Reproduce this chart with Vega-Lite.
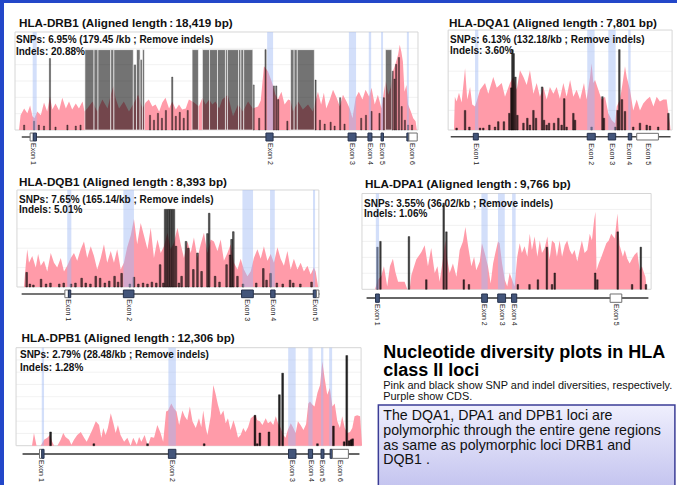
{
"$schema": "https://vega.github.io/schema/vega-lite/v6.json",
"background": "#2347c9",
"padding": {"left": 4, "top": 3, "right": 0, "bottom": 0},
"spacing": 0,
"config": {"font": "Liberation Sans", "view": {"stroke": null, "fill": "#ffffff"}, "concat": {"spacing": 0}},
"vconcat": [
{"hconcat": [
{"width": 436, "height": 165,
 "layer": [
  {"data": {"values": [{"val": 0.167}, {"val": 0.333}, {"val": 0.5}, {"val": 0.667}, {"val": 0.833}]}, "mark": {"type": "rule", "color": "#efefef", "strokeWidth": 0.8}, "encoding": {"x": {"datum": -1.0, "axis": null}, "x2": {"datum": 100.5}, "y": {"field": "val", "type": "quantitative", "axis": null}}},
  {"data": {"values": [{}]}, "mark": {"type": "rect", "fill": "transparent", "stroke": "#d6d6d6", "strokeWidth": 1}, "encoding": {"x": {"datum": -1.0, "axis": null}, "x2": {"datum": 100.5}, "y": {"datum": 0, "axis": null}, "y2": {"datum": 1}}},
  {"data": {"values": [{"pos":0,"val":0},{"pos":0.4,"val":0.15},{"pos":1.3,"val":0.22},{"pos":2.1,"val":0.17},{"pos":2.8,"val":0.25},{"pos":3.4,"val":0.14},{"pos":3.9,"val":0.12},{"pos":4.6,"val":0.19},{"pos":5.5,"val":0.15},{"pos":6.3,"val":0.28},{"pos":7.1,"val":0.19},{"pos":7.8,"val":0.34},{"pos":8.4,"val":0.21},{"pos":9.2,"val":0.27},{"pos":10.1,"val":0.2},{"pos":10.9,"val":0.33},{"pos":11.8,"val":0.22},{"pos":12.6,"val":0.29},{"pos":13.4,"val":0.21},{"pos":14.3,"val":0.27},{"pos":15.1,"val":0.22},{"pos":16.0,"val":0.29},{"pos":16.5,"val":0.19},{"pos":17.2,"val":0.22},{"pos":18.5,"val":0.29},{"pos":19.7,"val":0.19},{"pos":21.0,"val":0.31},{"pos":22.3,"val":0.22},{"pos":23.1,"val":0.36},{"pos":23.8,"val":0.45},{"pos":24.3,"val":0.33},{"pos":25.2,"val":0.22},{"pos":26.4,"val":0.29},{"pos":27.7,"val":0.19},{"pos":29.0,"val":0.28},{"pos":30.0,"val":0.36},{"pos":31.1,"val":0.22},{"pos":31.9,"val":0.28},{"pos":32.7,"val":0.31},{"pos":33.6,"val":0.24},{"pos":34.4,"val":0.26},{"pos":35.3,"val":0.19},{"pos":36.1,"val":0.28},{"pos":36.9,"val":0.33},{"pos":37.8,"val":0.22},{"pos":38.6,"val":0.29},{"pos":39.5,"val":0.21},{"pos":40.3,"val":0.26},{"pos":41.1,"val":0.21},{"pos":42.0,"val":0.22},{"pos":42.8,"val":0.31},{"pos":44.1,"val":0.28},{"pos":45.3,"val":0.24},{"pos":46.2,"val":0.33},{"pos":47.0,"val":0.26},{"pos":47.9,"val":0.31},{"pos":48.7,"val":0.26},{"pos":49.5,"val":0.29},{"pos":50.4,"val":0.22},{"pos":51.2,"val":0.31},{"pos":52.6,"val":0.36},{"pos":53.9,"val":0.14},{"pos":55.2,"val":0.26},{"pos":56.4,"val":0.19},{"pos":57.7,"val":0.29},{"pos":58.9,"val":0.22},{"pos":60.2,"val":0.24},{"pos":60.9,"val":0.3},{"pos":61.7,"val":0.65},{"pos":62.7,"val":0.6},{"pos":63.6,"val":0.5},{"pos":64.0,"val":0.45},{"pos":64.6,"val":0.36},{"pos":65.2,"val":0.31},{"pos":66.1,"val":0.39},{"pos":66.9,"val":0.26},{"pos":67.8,"val":0.31},{"pos":68.4,"val":0.3},{"pos":69.0,"val":0.19},{"pos":70.3,"val":0.29},{"pos":71.5,"val":0.21},{"pos":72.8,"val":0.26},{"pos":74.0,"val":0.19},{"pos":75.3,"val":0.39},{"pos":76.1,"val":0.26},{"pos":76.8,"val":0.38},{"pos":77.4,"val":0.22},{"pos":78.3,"val":0.31},{"pos":79.1,"val":0.41},{"pos":80.0,"val":0.33},{"pos":80.8,"val":0.24},{"pos":81.6,"val":0.36},{"pos":82.5,"val":0.29},{"pos":83.3,"val":0.22},{"pos":84.0,"val":0.12},{"pos":84.8,"val":0.33},{"pos":85.6,"val":0.39},{"pos":86.5,"val":0.31},{"pos":87.3,"val":0.41},{"pos":88.2,"val":0.34},{"pos":88.8,"val":0.43},{"pos":89.6,"val":0.26},{"pos":90.4,"val":0.36},{"pos":91.3,"val":0.22},{"pos":91.9,"val":0.39},{"pos":92.4,"val":0.5},{"pos":93.0,"val":0.36},{"pos":93.6,"val":0.43},{"pos":94.2,"val":0.6},{"pos":94.8,"val":0.67},{"pos":95.5,"val":0.77},{"pos":95.9,"val":0.87},{"pos":96.3,"val":0.8},{"pos":96.7,"val":0.7},{"pos":97.1,"val":0.39},{"pos":97.6,"val":0.46},{"pos":98.0,"val":0.26},{"pos":98.7,"val":0.19},{"pos":99.3,"val":0.12},{"pos":99.9,"val":0.09},{"pos":100.2,"val":0}]}, "mark": {"type": "area", "color": "#ff9ba9", "interpolate": "linear"}, "encoding": {"x": {"field": "pos", "type": "quantitative", "axis": null, "scale": {"domain": [-3.778, 106.045], "nice": false, "zero": false, "padding": 0}}, "y": {"field": "val", "type": "quantitative", "axis": null, "stack": null, "scale": {"domain": [-0.3878, 1.2959], "nice": false, "zero": false, "padding": 0}}}},
  {"data": {"values": [{"pos":1.3,"val":0.05},{"pos":3.8,"val":0.09},{"pos":5.0,"val":0.05},{"pos":6.3,"val":0.04},{"pos":7.8,"val":0.73},{"pos":9.2,"val":0.03},{"pos":12.2,"val":0.05},{"pos":14.3,"val":0.04},{"pos":15.5,"val":0.05},{"pos":33.0,"val":0.15},{"pos":34.0,"val":0.1},{"pos":35.0,"val":0.17},{"pos":36.0,"val":0.12},{"pos":37.0,"val":0.2},{"pos":38.6,"val":0.54},{"pos":39.5,"val":0.14},{"pos":40.5,"val":0.18},{"pos":41.5,"val":0.12},{"pos":42.5,"val":0.2},{"pos":59.1,"val":0.46},{"pos":60.5,"val":0.12},{"pos":62.1,"val":0.82},{"pos":64.2,"val":0.45},{"pos":64.8,"val":0.45},{"pos":65.3,"val":0.31},{"pos":67.6,"val":0.09},{"pos":74.7,"val":0.51},{"pos":75.8,"val":0.1},{"pos":77.0,"val":0.06},{"pos":78.5,"val":0.08},{"pos":79.5,"val":0.04},{"pos":80.9,"val":0.33},{"pos":82.0,"val":0.06},{"pos":86.2,"val":0.12},{"pos":87.4,"val":0.15},{"pos":88.8,"val":0.19},{"pos":90.8,"val":0.17},{"pos":91.9,"val":0.33},{"pos":94.1,"val":0.6},{"pos":94.6,"val":0.52},{"pos":95.0,"val":0.67},{"pos":95.7,"val":0.74},{"pos":96.4,"val":0.24},{"pos":97.2,"val":0.1},{"pos":98.0,"val":0.05},{"pos":99.0,"val":0.05}]}, "mark": {"type": "bar", "orient": "vertical", "width": 1.2, "fill": "#000", "fillOpacity": 0.55, "stroke": "#000", "strokeWidth": 0.4, "strokeOpacity": 0.8}, "encoding": {"x": {"field": "pos", "type": "quantitative", "axis": null}, "y": {"field": "val", "type": "quantitative", "axis": null, "stack": null}, "y2": {"datum": 0}}},
  {"data": {"values": [{"pos":16.6,"end":18.9,"val":0.82},{"pos":18.9,"end":19.9,"val":0.82},{"pos":19.9,"end":23.1,"val":0.82},{"pos":23.1,"end":23.9,"val":0.82},{"pos":23.9,"end":28.8,"val":0.82},{"pos":28.8,"end":29.6,"val":0.67},{"pos":29.6,"end":30.5,"val":0.82},{"pos":30.5,"end":31.1,"val":0.72},{"pos":31.1,"end":31.6,"val":0.82},{"pos":43.6,"end":45.2,"val":0.82},{"pos":46.2,"end":48.0,"val":0.82},{"pos":48.0,"end":50.0,"val":0.82},{"pos":50.0,"end":52.0,"val":0.82},{"pos":52.0,"end":52.5,"val":0.82},{"pos":52.5,"end":55.3,"val":0.82},{"pos":55.3,"end":55.9,"val":0.82},{"pos":55.9,"end":56.6,"val":0.82},{"pos":56.6,"end":58.9,"val":0.82},{"pos":68.4,"end":69.3,"val":0.82},{"pos":69.3,"end":70.1,"val":0.82},{"pos":70.1,"end":74.4,"val":0.82},{"pos":92.3,"end":93.9,"val":0.82}]}, "mark": {"type": "rect", "fill": "#000", "fillOpacity": 0.55, "stroke": "#ffffff", "strokeWidth": 0.6}, "encoding": {"x": {"field": "pos", "type": "quantitative", "axis": null}, "x2": {"field": "end"}, "y": {"field": "val", "type": "quantitative", "axis": null}, "y2": {"datum": 0}}},
  {"data": {"values": [{"pos":3.45,"end":4.46},{"pos":62.5,"end":64.0},{"pos":83.1,"end":84.9},{"pos":88.1,"end":88.7},{"pos":91.2,"end":91.7},{"pos":97.7,"end":98.2}]}, "mark": {"type": "rect", "fill": "#9db8f5", "fillOpacity": 0.45}, "encoding": {"x": {"field": "pos", "type": "quantitative", "axis": null}, "x2": {"field": "end"}, "y": {"datum": 0, "axis": null}, "y2": {"datum": 1}}},
  {"data": {"values": [{}]}, "mark": {"type": "rule", "color": "#474747", "strokeWidth": 1.5}, "encoding": {"x": {"datum": 0.7, "axis": null}, "x2": {"datum": 100.3}, "y": {"datum": -0.071, "axis": null}}},
  {"data": {"values": [{"pos":2.8,"end":3.6,"kind":"utr"},{"pos":3.6,"end":4.4,"kind":"cds"},{"pos":62.2,"end":64.0,"kind":"cds"},{"pos":82.9,"end":84.9,"kind":"cds"},{"pos":87.9,"end":88.9,"kind":"cds"},{"pos":91.2,"end":91.8,"kind":"cds"},{"pos":97.7,"end":98.2,"kind":"cds"},{"pos":98.2,"end":100.3,"kind":"utr"}]}, "mark": {"type": "rect", "strokeWidth": 1}, "encoding": {"x": {"field": "pos", "type": "quantitative", "axis": null}, "x2": {"field": "end"}, "y": {"datum": -0.031, "axis": null}, "y2": {"datum": -0.112}, "fill": {"field": "kind", "type": "nominal", "scale": {"domain": ["cds", "utr"], "range": ["#43557a", "#ffffff"]}, "legend": null}, "stroke": {"field": "kind", "type": "nominal", "scale": {"domain": ["cds", "utr"], "range": ["#26324d", "#707070"]}, "legend": null}}},
  {"data": {"values": [{"pos":3.5,"label":"Exon 1"},{"pos":63.2,"label":"Exon 2"},{"pos":83.9,"label":"Exon 3"},{"pos":88.4,"label":"Exon 4"},{"pos":91.5,"label":"Exon 5"},{"pos":99.0,"label":"Exon 6"}]}, "mark": {"type": "text", "angle": 90, "align": "left", "baseline": "middle", "fontSize": 7, "color": "#222222"}, "encoding": {"x": {"field": "pos", "type": "quantitative", "axis": null}, "y": {"datum": -0.133, "axis": null}, "text": {"field": "label"}}},
  {"data": {"values": [{"pos":0,"val":1.054,"t":"HLA-DRB1 (Aligned length\u2009:\u200918,419 bp)"}]}, "mark": {"type": "text", "align": "left", "baseline": "alphabetic", "fontSize": 11.7, "fontWeight": "bold", "color": "#111111"}, "encoding": {"x": {"field": "pos", "type": "quantitative", "axis": null}, "y": {"field": "val", "type": "quantitative", "axis": null}, "text": {"field": "t"}}},
  {"data": {"values": [{"pos":-0.76,"val":0.885,"t":"SNPs: 6.95% (179.45 /kb ; Remove indels)"},{"pos":-0.76,"val":0.768,"t":"Indels: 20.88%"}]}, "mark": {"type": "text", "align": "left", "baseline": "alphabetic", "fontSize": 10, "fontWeight": "bold", "color": "#111111"}, "encoding": {"x": {"field": "pos", "type": "quantitative", "axis": null}, "y": {"field": "val", "type": "quantitative", "axis": null}, "text": {"field": "t"}}}
 ]},
{"width": 237, "height": 165,
 "layer": [
  {"data": {"values": [{"val": 0.2}, {"val": 0.4}, {"val": 0.6}, {"val": 0.8}]}, "mark": {"type": "rule", "color": "#efefef", "strokeWidth": 0.8}, "encoding": {"x": {"datum": -2.7, "axis": null}, "x2": {"datum": 100.5}, "y": {"field": "val", "type": "quantitative", "axis": null}}},
  {"data": {"values": [{}]}, "mark": {"type": "rect", "fill": "transparent", "stroke": "#d6d6d6", "strokeWidth": 1}, "encoding": {"x": {"datum": -2.7, "axis": null}, "x2": {"datum": 100.5}, "y": {"datum": 0, "axis": null}, "y2": {"datum": 1.02}}},
  {"data": {"values": [{"pos":0,"val":0},{"pos":0.4,"val":0.34},{"pos":1.2,"val":0.29},{"pos":2.3,"val":0.38},{"pos":3.5,"val":0.28},{"pos":5.1,"val":0.63},{"pos":6.1,"val":0.31},{"pos":7.4,"val":0.44},{"pos":8.4,"val":0.26},{"pos":9.7,"val":0.24},{"pos":12.0,"val":0.41},{"pos":14.3,"val":0.48},{"pos":15.8,"val":0.37},{"pos":18.1,"val":0.54},{"pos":19.7,"val":0.43},{"pos":22.0,"val":0.48},{"pos":23.5,"val":0.34},{"pos":25.8,"val":0.48},{"pos":27.3,"val":0.54},{"pos":28.9,"val":0.41},{"pos":30.4,"val":0.61},{"pos":32.0,"val":0.54},{"pos":33.5,"val":0.46},{"pos":35.0,"val":0.61},{"pos":36.6,"val":0.37},{"pos":38.1,"val":0.48},{"pos":39.6,"val":0.34},{"pos":41.2,"val":0.44},{"pos":42.7,"val":0.31},{"pos":44.2,"val":0.44},{"pos":45.8,"val":0.37},{"pos":47.3,"val":0.44},{"pos":48.8,"val":0.32},{"pos":50.4,"val":0.48},{"pos":51.9,"val":0.34},{"pos":53.5,"val":0.51},{"pos":55.0,"val":0.34},{"pos":56.5,"val":0.41},{"pos":58.1,"val":0.31},{"pos":59.9,"val":0.48},{"pos":61.1,"val":0.31},{"pos":62.7,"val":0.54},{"pos":63.4,"val":0.68},{"pos":64.2,"val":0.48},{"pos":65.0,"val":0.51},{"pos":66.5,"val":0.41},{"pos":68.0,"val":0.31},{"pos":69.6,"val":0.34},{"pos":71.1,"val":0.17},{"pos":72.7,"val":0.1},{"pos":74.2,"val":0.07},{"pos":75.0,"val":0.24},{"pos":76.5,"val":0.31},{"pos":77.7,"val":0.48},{"pos":78.8,"val":0.65},{"pos":79.6,"val":0.54},{"pos":81.1,"val":0.41},{"pos":82.6,"val":0.2},{"pos":84.2,"val":0.31},{"pos":85.7,"val":0.2},{"pos":87.2,"val":0.27},{"pos":88.8,"val":0.31},{"pos":90.3,"val":0.34},{"pos":91.9,"val":0.24},{"pos":93.4,"val":0.34},{"pos":94.9,"val":0.29},{"pos":96.5,"val":0.31},{"pos":98.0,"val":0.31},{"pos":98.8,"val":0.17},{"pos":99.5,"val":0.07},{"pos":99.8,"val":0}]}, "mark": {"type": "area", "color": "#ff9ba9", "interpolate": "linear"}, "encoding": {"x": {"field": "pos", "type": "quantitative", "axis": null, "scale": {"domain": [-6.452, 102.765], "nice": false, "zero": false, "padding": 0}}, "y": {"field": "val", "type": "quantitative", "axis": null, "stack": null, "scale": {"domain": [-0.3878, 1.2959], "nice": false, "zero": false, "padding": 0}}}},
  {"data": {"values": [{"pos":1.2,"val":0.02},{"pos":5.1,"val":0.2},{"pos":7.1,"val":0.03},{"pos":12.0,"val":0.02},{"pos":13.5,"val":0.02},{"pos":16.3,"val":0.05},{"pos":18.9,"val":0.03},{"pos":20.4,"val":0.085},{"pos":23.0,"val":0.085},{"pos":25.5,"val":0.17},{"pos":26.4,"val":0.43},{"pos":26.9,"val":0.82},{"pos":27.5,"val":0.78},{"pos":28.3,"val":0.54},{"pos":29.2,"val":0.15},{"pos":32.0,"val":0.07},{"pos":33.8,"val":0.12},{"pos":35.0,"val":0.05},{"pos":36.6,"val":0.2},{"pos":37.8,"val":0.12},{"pos":40.6,"val":0.44},{"pos":41.5,"val":0.1},{"pos":42.7,"val":0.05},{"pos":43.8,"val":0.07},{"pos":46.1,"val":0.07},{"pos":48.1,"val":0.12},{"pos":49.6,"val":0.05},{"pos":50.8,"val":0.32},{"pos":51.9,"val":0.03},{"pos":55.0,"val":0.17},{"pos":55.8,"val":0.1},{"pos":63.4,"val":0.03},{"pos":68.4,"val":0.34},{"pos":69.1,"val":0.12},{"pos":74.3,"val":0.03},{"pos":75.4,"val":0.2},{"pos":76.2,"val":0.82},{"pos":77.4,"val":0.31},{"pos":78.8,"val":0.19},{"pos":82.6,"val":0.03},{"pos":85.7,"val":0.07},{"pos":88.8,"val":0.05},{"pos":90.3,"val":0.04},{"pos":94.1,"val":0.03},{"pos":98.8,"val":0.17}]}, "mark": {"type": "bar", "orient": "vertical", "width": 1.6, "fill": "#000", "fillOpacity": 0.7, "stroke": "#000", "strokeWidth": 0.4, "strokeOpacity": 0.9}, "encoding": {"x": {"field": "pos", "type": "quantitative", "axis": null}, "y": {"field": "val", "type": "quantitative", "axis": null, "stack": null}, "y2": {"datum": 0}}},
  {"data": {"values": [{"pos":9.7,"end":11.2},{"pos":61.4,"end":64.8},{"pos":71.1,"end":74.5},{"pos":80.3,"end":81.4}]}, "mark": {"type": "rect", "fill": "#9db8f5", "fillOpacity": 0.45}, "encoding": {"x": {"field": "pos", "type": "quantitative", "axis": null}, "x2": {"field": "end"}, "y": {"datum": 0, "axis": null}, "y2": {"datum": 1.02}}},
  {"data": {"values": [{}]}, "mark": {"type": "rule", "color": "#474747", "strokeWidth": 1.5}, "encoding": {"x": {"datum": -1.5, "axis": null}, "x2": {"datum": 99.8}, "y": {"datum": -0.068, "axis": null}}},
  {"data": {"values": [{"pos":8.9,"end":11.2,"kind":"cds"},{"pos":61.4,"end":65.1,"kind":"cds"},{"pos":71.1,"end":74.5,"kind":"cds"},{"pos":80.3,"end":81.9,"kind":"cds"},{"pos":84.2,"end":94.2,"kind":"utr"}]}, "mark": {"type": "rect", "strokeWidth": 1}, "encoding": {"x": {"field": "pos", "type": "quantitative", "axis": null}, "x2": {"field": "end"}, "y": {"datum": -0.034, "axis": null}, "y2": {"datum": -0.102}, "fill": {"field": "kind", "type": "nominal", "scale": {"domain": ["cds", "utr"], "range": ["#43557a", "#ffffff"]}, "legend": null}, "stroke": {"field": "kind", "type": "nominal", "scale": {"domain": ["cds", "utr"], "range": ["#26324d", "#707070"]}, "legend": null}}},
  {"data": {"values": [{"pos":10.1,"label":"Exon 1"},{"pos":63.3,"label":"Exon 2"},{"pos":72.8,"label":"Exon 3"},{"pos":80.8,"label":"Exon 4"},{"pos":89.6,"label":"Exon 5"}]}, "mark": {"type": "text", "angle": 90, "align": "left", "baseline": "middle", "fontSize": 7, "color": "#222222"}, "encoding": {"x": {"field": "pos", "type": "quantitative", "axis": null}, "y": {"datum": -0.136, "axis": null}, "text": {"field": "label"}}},
  {"data": {"values": [{"pos":-2.3,"val":1.054,"t":"HLA-DQA1 (Aligned length\u2009:\u20097,801 bp)"}]}, "mark": {"type": "text", "align": "left", "baseline": "alphabetic", "fontSize": 11.7, "fontWeight": "bold", "color": "#111111"}, "encoding": {"x": {"field": "pos", "type": "quantitative", "axis": null}, "y": {"field": "val", "type": "quantitative", "axis": null}, "text": {"field": "t"}}},
  {"data": {"values": [{"pos":-1.8,"val":0.888,"t":"SNPs: 6.13% (132.18/kb ; Remove indels)"},{"pos":-1.8,"val":0.776,"t":"Indels: 3.60%"}]}, "mark": {"type": "text", "align": "left", "baseline": "alphabetic", "fontSize": 10, "fontWeight": "bold", "color": "#111111"}, "encoding": {"x": {"field": "pos", "type": "quantitative", "axis": null}, "y": {"field": "val", "type": "quantitative", "axis": null}, "text": {"field": "t"}}}
 ]}
], "spacing": 0, "bounds": "flush"},
{"hconcat": [
{"width": 336, "height": 158,
 "layer": [
  {"data": {"values": [{"val": 0.2}, {"val": 0.4}, {"val": 0.6}, {"val": 0.8}]}, "mark": {"type": "rule", "color": "#efefef", "strokeWidth": 0.8}, "encoding": {"x": {"datum": -2.4, "axis": null}, "x2": {"datum": 100.3}, "y": {"field": "val", "type": "quantitative", "axis": null}}},
  {"data": {"values": [{}]}, "mark": {"type": "rect", "fill": "transparent", "stroke": "#d6d6d6", "strokeWidth": 1}, "encoding": {"x": {"datum": -2.4, "axis": null}, "x2": {"datum": 100.3}, "y": {"datum": 0, "axis": null}, "y2": {"datum": 1}}},
  {"data": {"values": [{"pos":0,"val":0.01},{"pos":0.6,"val":0.23},{"pos":1.1,"val":0.39},{"pos":1.7,"val":0.25},{"pos":2.8,"val":0.32},{"pos":4.0,"val":0.2},{"pos":4.8,"val":0.34},{"pos":5.7,"val":0.22},{"pos":6.8,"val":0.27},{"pos":7.9,"val":0.16},{"pos":9.1,"val":0.35},{"pos":10.2,"val":0.25},{"pos":11.3,"val":0.2},{"pos":12.5,"val":0.3},{"pos":13.6,"val":0.16},{"pos":14.7,"val":0.22},{"pos":15.9,"val":0.3},{"pos":17.0,"val":0.35},{"pos":18.1,"val":0.27},{"pos":19.3,"val":0.39},{"pos":20.4,"val":0.47},{"pos":21.5,"val":0.3},{"pos":22.7,"val":0.42},{"pos":23.8,"val":0.32},{"pos":24.9,"val":0.18},{"pos":26.1,"val":0.3},{"pos":27.2,"val":0.44},{"pos":28.3,"val":0.25},{"pos":29.5,"val":0.37},{"pos":30.6,"val":0.25},{"pos":31.7,"val":0.39},{"pos":32.9,"val":0.18},{"pos":34.0,"val":0.25},{"pos":35.1,"val":0.41},{"pos":36.3,"val":0.53},{"pos":37.4,"val":0.7},{"pos":38.5,"val":0.44},{"pos":39.7,"val":0.66},{"pos":40.8,"val":0.53},{"pos":42.0,"val":0.39},{"pos":43.1,"val":0.61},{"pos":44.2,"val":0.3},{"pos":45.4,"val":0.49},{"pos":46.5,"val":0.35},{"pos":47.6,"val":0.42},{"pos":48.8,"val":0.56},{"pos":49.9,"val":0.39},{"pos":51.0,"val":0.46},{"pos":52.2,"val":0.61},{"pos":53.3,"val":0.44},{"pos":54.4,"val":0.3},{"pos":55.6,"val":0.47},{"pos":56.7,"val":0.35},{"pos":57.8,"val":0.51},{"pos":59.0,"val":0.3},{"pos":60.1,"val":0.44},{"pos":61.2,"val":0.56},{"pos":62.4,"val":0.35},{"pos":63.5,"val":0.49},{"pos":64.6,"val":0.47},{"pos":65.8,"val":0.37},{"pos":66.9,"val":0.49},{"pos":68.0,"val":0.27},{"pos":69.2,"val":0.35},{"pos":70.3,"val":0.44},{"pos":71.4,"val":0.25},{"pos":72.6,"val":0.18},{"pos":73.7,"val":0.29},{"pos":74.8,"val":0.18},{"pos":76.0,"val":0.11},{"pos":77.1,"val":0.16},{"pos":78.2,"val":0.3},{"pos":79.4,"val":0.39},{"pos":80.5,"val":0.29},{"pos":81.6,"val":0.42},{"pos":82.8,"val":0.27},{"pos":83.9,"val":0.34},{"pos":85.0,"val":0.25},{"pos":86.2,"val":0.41},{"pos":87.3,"val":0.29},{"pos":88.4,"val":0.22},{"pos":89.6,"val":0.37},{"pos":90.7,"val":0.18},{"pos":91.8,"val":0.29},{"pos":93.0,"val":0.18},{"pos":94.1,"val":0.25},{"pos":95.2,"val":0.16},{"pos":96.4,"val":0.22},{"pos":97.5,"val":0.13},{"pos":98.6,"val":0.2},{"pos":99.2,"val":0.16},{"pos":100,"val":0.01}]}, "mark": {"type": "area", "color": "#ff9ba9", "interpolate": "linear"}, "encoding": {"x": {"field": "pos", "type": "quantitative", "axis": null, "scale": {"domain": [-6.803, 107.483], "nice": false, "zero": false, "padding": 0}}, "y": {"field": "val", "type": "quantitative", "axis": null, "stack": null, "scale": {"domain": [-0.4021, 1.2268], "nice": false, "zero": false, "padding": 0}}}},
  {"data": {"values": [{"pos":0.9,"val":0.15},{"pos":2.0,"val":0.03},{"pos":3.2,"val":0.02},{"pos":5.8,"val":0.08},{"pos":7.5,"val":0.03},{"pos":9.0,"val":0.04},{"pos":12.0,"val":0.03},{"pos":13.5,"val":0.04},{"pos":16.0,"val":0.03},{"pos":17.5,"val":0.04},{"pos":19.6,"val":0.09},{"pos":21.0,"val":0.04},{"pos":22.6,"val":0.03},{"pos":24.4,"val":0.11},{"pos":25.9,"val":0.09},{"pos":27.5,"val":0.04},{"pos":29.0,"val":0.06},{"pos":30.8,"val":0.11},{"pos":32.0,"val":0.05},{"pos":33.2,"val":0.14},{"pos":36.0,"val":0.03},{"pos":37.4,"val":0.1},{"pos":38.9,"val":0.03},{"pos":40.5,"val":0.04},{"pos":42.0,"val":0.03},{"pos":43.5,"val":0.05},{"pos":45.0,"val":0.04},{"pos":46.3,"val":0.23},{"pos":47.4,"val":0.04},{"pos":48.0,"val":0.8},{"pos":48.6,"val":0.8},{"pos":49.2,"val":0.8},{"pos":49.8,"val":0.8},{"pos":50.4,"val":0.8},{"pos":51.0,"val":0.8},{"pos":51.7,"val":0.42},{"pos":52.7,"val":0.04},{"pos":53.6,"val":0.11},{"pos":55.1,"val":0.47},{"pos":55.9,"val":0.4},{"pos":57.6,"val":0.18},{"pos":59.0,"val":0.35},{"pos":60.4,"val":0.16},{"pos":62.4,"val":0.55},{"pos":63.0,"val":0.76},{"pos":65.0,"val":0.11},{"pos":66.5,"val":0.05},{"pos":68.9,"val":0.23},{"pos":70.1,"val":0.33},{"pos":70.6,"val":0.49},{"pos":71.2,"val":0.57},{"pos":72.6,"val":0.11},{"pos":74.5,"val":0.03},{"pos":79.0,"val":0.04},{"pos":81.4,"val":0.19},{"pos":82.5,"val":0.07},{"pos":83.9,"val":0.14},{"pos":86.0,"val":0.04},{"pos":88.0,"val":0.03},{"pos":90.5,"val":0.07},{"pos":91.6,"val":0.04},{"pos":94.0,"val":0.03},{"pos":97.8,"val":0.05}]}, "mark": {"type": "bar", "orient": "vertical", "width": 1.6, "fill": "#000", "fillOpacity": 0.6, "stroke": "#000", "strokeWidth": 0.5, "strokeOpacity": 0.9}, "encoding": {"x": {"field": "pos", "type": "quantitative", "axis": null}, "y": {"field": "val", "type": "quantitative", "axis": null, "stack": null}, "y2": {"datum": 0}}},
  {"data": {"values": [{"pos":14.7,"end":16.1},{"pos":33.8,"end":37.4},{"pos":74.3,"end":77.9},{"pos":83.7,"end":85.3},{"pos":98.3,"end":99.0}]}, "mark": {"type": "rect", "fill": "#9db8f5", "fillOpacity": 0.45}, "encoding": {"x": {"field": "pos", "type": "quantitative", "axis": null}, "x2": {"field": "end"}, "y": {"datum": 0, "axis": null}, "y2": {"datum": 1}}},
  {"data": {"values": [{}]}, "mark": {"type": "rule", "color": "#474747", "strokeWidth": 1.5}, "encoding": {"x": {"datum": -0.8, "axis": null}, "x2": {"datum": 100.5}, "y": {"datum": -0.072, "axis": null}}},
  {"data": {"values": [{"pos":13.9,"end":15.1,"kind":"utr"},{"pos":15.1,"end":15.9,"kind":"cds"},{"pos":33.8,"end":37.4,"kind":"cds"},{"pos":74.0,"end":78.0,"kind":"cds"},{"pos":83.9,"end":85.4,"kind":"cds"},{"pos":98.4,"end":99.5,"kind":"cds"},{"pos":99.5,"end":100.3,"kind":"utr"}]}, "mark": {"type": "rect", "strokeWidth": 1}, "encoding": {"x": {"field": "pos", "type": "quantitative", "axis": null}, "x2": {"field": "end"}, "y": {"datum": -0.031, "axis": null}, "y2": {"datum": -0.11}, "fill": {"field": "kind", "type": "nominal", "scale": {"domain": ["cds", "utr"], "range": ["#43557a", "#ffffff"]}, "legend": null}, "stroke": {"field": "kind", "type": "nominal", "scale": {"domain": ["cds", "utr"], "range": ["#26324d", "#707070"]}, "legend": null}}},
  {"data": {"values": [{"pos":14.9,"label":"Exon 1"},{"pos":35.6,"label":"Exon 2"},{"pos":76.0,"label":"Exon 3"},{"pos":84.6,"label":"Exon 4"},{"pos":99.0,"label":"Exon 5"}]}, "mark": {"type": "text", "angle": 90, "align": "left", "baseline": "middle", "fontSize": 7, "color": "#222222"}, "encoding": {"x": {"field": "pos", "type": "quantitative", "axis": null}, "y": {"datum": -0.127, "axis": null}, "text": {"field": "label"}}},
  {"data": {"values": [{"pos":-1.7,"val":1.041,"t":"HLA-DQB1 (Aligned length\u2009:\u20098,393 bp)"}]}, "mark": {"type": "text", "align": "left", "baseline": "alphabetic", "fontSize": 11.7, "fontWeight": "bold", "color": "#111111"}, "encoding": {"x": {"field": "pos", "type": "quantitative", "axis": null}, "y": {"field": "val", "type": "quantitative", "axis": null}, "text": {"field": "t"}}},
  {"data": {"values": [{"pos":-1.7,"val":0.869,"t":"SNPs: 7.65% (165.14/kb ; Remove indels)"},{"pos":-1.7,"val":0.76,"t":"Indels: 5.01%"}]}, "mark": {"type": "text", "align": "left", "baseline": "alphabetic", "fontSize": 10, "fontWeight": "bold", "color": "#111111"}, "encoding": {"x": {"field": "pos", "type": "quantitative", "axis": null}, "y": {"field": "val", "type": "quantitative", "axis": null}, "text": {"field": "t"}}}
 ]},
{"width": 337, "height": 158,
 "layer": [
  {"data": {"values": [{"val": 0.167}, {"val": 0.333}, {"val": 0.5}, {"val": 0.667}, {"val": 0.833}]}, "mark": {"type": "rule", "color": "#efefef", "strokeWidth": 0.8}, "encoding": {"x": {"datum": -4.8, "axis": null}, "x2": {"datum": 101.7}, "y": {"field": "val", "type": "quantitative", "axis": null}}},
  {"data": {"values": [{}]}, "mark": {"type": "rect", "fill": "transparent", "stroke": "#d6d6d6", "strokeWidth": 1}, "encoding": {"x": {"datum": -4.8, "axis": null}, "x2": {"datum": 101.7}, "y": {"datum": 0, "axis": null}, "y2": {"datum": 1}}},
  {"data": {"values": [{"pos":0,"val":0},{"pos":1.1,"val":0.1},{"pos":2.3,"val":0.14},{"pos":3.3,"val":0.24},{"pos":4.5,"val":0.03},{"pos":5.5,"val":0.24},{"pos":6.6,"val":0.32},{"pos":7.5,"val":0.18},{"pos":8.5,"val":0.08},{"pos":9.7,"val":0.08},{"pos":10.9,"val":0.08},{"pos":11.9,"val":0},{"pos":12.8,"val":0},{"pos":13.4,"val":0.15},{"pos":15.2,"val":0.31},{"pos":17.1,"val":0.39},{"pos":18.3,"val":0.46},{"pos":19.5,"val":0.24},{"pos":20.7,"val":0.43},{"pos":22.0,"val":0.17},{"pos":23.0,"val":0.24},{"pos":23.8,"val":0.08},{"pos":25.0,"val":0.31},{"pos":25.9,"val":0.51},{"pos":26.6,"val":0.32},{"pos":27.5,"val":0.17},{"pos":28.7,"val":0.27},{"pos":30.0,"val":0.13},{"pos":31.2,"val":0.41},{"pos":32.4,"val":0.5},{"pos":33.3,"val":0.65},{"pos":34.3,"val":0.45},{"pos":35.5,"val":0.24},{"pos":36.5,"val":0.34},{"pos":37.3,"val":0.2},{"pos":38.6,"val":0.29},{"pos":39.4,"val":0.48},{"pos":40.4,"val":0.38},{"pos":41.6,"val":0.24},{"pos":42.6,"val":0.06},{"pos":43.5,"val":0.27},{"pos":44.4,"val":0.39},{"pos":45.3,"val":0.5},{"pos":45.9,"val":0.48},{"pos":46.8,"val":0.27},{"pos":47.8,"val":0.1},{"pos":48.7,"val":0.03},{"pos":49.6,"val":0.17},{"pos":50.5,"val":0.1},{"pos":51.4,"val":0.03},{"pos":52.4,"val":0.34},{"pos":53.3,"val":0.48},{"pos":54.1,"val":0.38},{"pos":55.1,"val":0.45},{"pos":56.1,"val":0.34},{"pos":57.0,"val":0.58},{"pos":57.8,"val":0.41},{"pos":58.8,"val":0.55},{"pos":59.8,"val":0.34},{"pos":60.7,"val":0.51},{"pos":61.5,"val":0.38},{"pos":62.5,"val":0.43},{"pos":63.5,"val":0.55},{"pos":64.3,"val":0.31},{"pos":65.2,"val":0.51},{"pos":66.2,"val":0.48},{"pos":67.0,"val":0.34},{"pos":68.0,"val":0.51},{"pos":68.9,"val":0.34},{"pos":69.9,"val":0.46},{"pos":70.8,"val":0.51},{"pos":71.7,"val":0.41},{"pos":72.6,"val":0.36},{"pos":73.5,"val":0.41},{"pos":74.5,"val":0.29},{"pos":75.4,"val":0.41},{"pos":76.2,"val":0.51},{"pos":77.2,"val":0.38},{"pos":78.2,"val":0.41},{"pos":79.1,"val":0.58},{"pos":79.9,"val":0.51},{"pos":80.7,"val":0.72},{"pos":81.2,"val":0.81},{"pos":81.6,"val":0.2},{"pos":82.4,"val":0.27},{"pos":83.4,"val":0.34},{"pos":84.3,"val":0.41},{"pos":85.2,"val":0.48},{"pos":86.1,"val":0.51},{"pos":87.0,"val":0.58},{"pos":88.3,"val":0.53},{"pos":89.3,"val":0.79},{"pos":90.1,"val":0.46},{"pos":91.3,"val":0.34},{"pos":92.0,"val":0.41},{"pos":92.9,"val":0.32},{"pos":93.8,"val":0.27},{"pos":94.7,"val":0.32},{"pos":95.6,"val":0.36},{"pos":96.6,"val":0.39},{"pos":97.5,"val":0.2},{"pos":98.3,"val":0.24},{"pos":99.1,"val":0.17},{"pos":99.6,"val":0.13},{"pos":100.1,"val":0}]}, "mark": {"type": "area", "color": "#ff9ba9", "interpolate": "linear"}, "encoding": {"x": {"field": "pos", "type": "quantitative", "axis": null, "scale": {"domain": [-12.891, 111.234], "nice": false, "zero": false, "padding": 0}}, "y": {"field": "val", "type": "quantitative", "axis": null, "stack": null, "scale": {"domain": [-0.3831, 1.2662], "nice": false, "zero": false, "padding": 0}}}},
  {"data": {"values": [{"pos":0.9,"val":0.44},{"pos":2.0,"val":0.5},{"pos":12.5,"val":0.55},{"pos":18.9,"val":0.1},{"pos":25.3,"val":0.9},{"pos":26.3,"val":0.6},{"pos":32.7,"val":0.1},{"pos":34.6,"val":0.05},{"pos":52.6,"val":0.05},{"pos":56.9,"val":0.05},{"pos":60.0,"val":0.1},{"pos":63.3,"val":0.44},{"pos":65.2,"val":0.05},{"pos":66.2,"val":0.17},{"pos":81.1,"val":0.17},{"pos":81.9,"val":0.1},{"pos":89.4,"val":0.6},{"pos":94.7,"val":0.05},{"pos":97.9,"val":0.44},{"pos":99.8,"val":0.05}]}, "mark": {"type": "bar", "orient": "vertical", "width": 1.6, "fill": "#000", "fillOpacity": 0.75, "stroke": "#000", "strokeWidth": 0.4, "strokeOpacity": 0.9}, "encoding": {"x": {"field": "pos", "type": "quantitative", "axis": null}, "y": {"field": "val", "type": "quantitative", "axis": null, "stack": null}, "y2": {"datum": 0}}},
  {"data": {"values": [{"pos":0.3,"end":1.5},{"pos":39.2,"end":41.5},{"pos":45.3,"end":47.8},{"pos":50.5,"end":51.8}]}, "mark": {"type": "rect", "fill": "#9db8f5", "fillOpacity": 0.45}, "encoding": {"x": {"field": "pos", "type": "quantitative", "axis": null}, "x2": {"field": "end"}, "y": {"datum": 0, "axis": null}, "y2": {"datum": 1}}},
  {"data": {"values": [{}]}, "mark": {"type": "rule", "color": "#333333", "strokeWidth": 1.5}, "encoding": {"x": {"datum": -3.1, "axis": null}, "x2": {"datum": 100.7}, "y": {"datum": -0.091, "axis": null}}},
  {"data": {"values": [{"pos":0.2,"end":1.6,"kind":"cds"},{"pos":39.3,"end":41.4,"kind":"cds"},{"pos":45.2,"end":48.1,"kind":"cds"},{"pos":50.3,"end":52.2,"kind":"cds"},{"pos":86.6,"end":90.9,"kind":"utr"}]}, "mark": {"type": "rect", "strokeWidth": 1}, "encoding": {"x": {"field": "pos", "type": "quantitative", "axis": null}, "x2": {"field": "end"}, "y": {"datum": -0.049, "axis": null}, "y2": {"datum": -0.136}, "fill": {"field": "kind", "type": "nominal", "scale": {"domain": ["cds", "utr"], "range": ["#43557a", "#ffffff"]}, "legend": null}, "stroke": {"field": "kind", "type": "nominal", "scale": {"domain": ["cds", "utr"], "range": ["#26324d", "#707070"]}, "legend": null}}},
  {"data": {"values": [{"pos":0.8,"label":"Exon 1"},{"pos":40.3,"label":"Exon 2"},{"pos":46.6,"label":"Exon 3"},{"pos":51.2,"label":"Exon 4"},{"pos":88.8,"label":"Exon 5"}]}, "mark": {"type": "text", "angle": 90, "align": "left", "baseline": "middle", "fontSize": 7, "color": "#222222"}, "encoding": {"x": {"field": "pos", "type": "quantitative", "axis": null}, "y": {"datum": -0.153, "axis": null}, "text": {"field": "label"}}},
  {"data": {"values": [{"pos":-3.7,"val":1.054,"t":"HLA-DPA1 (Aligned length\u2009:\u20099,766 bp)"}]}, "mark": {"type": "text", "align": "left", "baseline": "alphabetic", "fontSize": 11.7, "fontWeight": "bold", "color": "#111111"}, "encoding": {"x": {"field": "pos", "type": "quantitative", "axis": null}, "y": {"field": "val", "type": "quantitative", "axis": null}, "text": {"field": "t"}}},
  {"data": {"values": [{"pos":-4.05,"val":0.862,"t":"SNPs: 3.55% (36.02/kb ; Remove indels)"},{"pos":-4.05,"val":0.75,"t":"Indels: 1.06%"}]}, "mark": {"type": "text", "align": "left", "baseline": "alphabetic", "fontSize": 10, "fontWeight": "bold", "color": "#111111"}, "encoding": {"x": {"field": "pos", "type": "quantitative", "axis": null}, "y": {"field": "val", "type": "quantitative", "axis": null}, "text": {"field": "t"}}}
 ]}
], "spacing": 0, "bounds": "flush"},
{"hconcat": [
{"width": 373, "height": 159,
 "layer": [
  {"data": {"values": [{"val": 0.125}, {"val": 0.25}, {"val": 0.375}, {"val": 0.5}, {"val": 0.625}, {"val": 0.75}, {"val": 0.875}]}, "mark": {"type": "rule", "color": "#efefef", "strokeWidth": 0.8}, "encoding": {"x": {"datum": -4.9, "axis": null}, "x2": {"datum": 101.1}, "y": {"field": "val", "type": "quantitative", "axis": null}}},
  {"data": {"values": [{}]}, "mark": {"type": "rect", "fill": "transparent", "stroke": "#d6d6d6", "strokeWidth": 1}, "encoding": {"x": {"datum": -4.9, "axis": null}, "x2": {"datum": 101.1}, "y": {"datum": 0, "axis": null}, "y2": {"datum": 1}}},
  {"data": {"values": [{"pos":0,"val":0},{"pos":0.6,"val":0.13},{"pos":1.4,"val":0},{"pos":2.7,"val":0},{"pos":3.7,"val":0.06},{"pos":4.7,"val":0.08},{"pos":5.5,"val":0.11},{"pos":6.2,"val":0.04},{"pos":6.8,"val":0},{"pos":7.8,"val":0},{"pos":8.8,"val":0.06},{"pos":9.6,"val":0.13},{"pos":10.3,"val":0.09},{"pos":11.4,"val":0.06},{"pos":12.1,"val":0.01},{"pos":12.9,"val":0.06},{"pos":13.9,"val":0.11},{"pos":15.0,"val":0.14},{"pos":16.0,"val":0.08},{"pos":16.8,"val":0.04},{"pos":17.5,"val":0.09},{"pos":18.5,"val":0.16},{"pos":19.6,"val":0.25},{"pos":20.6,"val":0.21},{"pos":21.3,"val":0.08},{"pos":21.9,"val":0.18},{"pos":22.6,"val":0.11},{"pos":23.3,"val":0.18},{"pos":24.2,"val":0.33},{"pos":25.0,"val":0.23},{"pos":25.7,"val":0.13},{"pos":26.4,"val":0.21},{"pos":27.2,"val":0.11},{"pos":28.3,"val":0.04},{"pos":29.3,"val":0.08},{"pos":30.3,"val":0},{"pos":31.1,"val":0.08},{"pos":32.2,"val":0.01},{"pos":32.9,"val":0.09},{"pos":33.6,"val":0.04},{"pos":34.6,"val":0.11},{"pos":35.6,"val":0},{"pos":36.5,"val":0.09},{"pos":37.5,"val":0.08},{"pos":38.5,"val":0.21},{"pos":39.5,"val":0.13},{"pos":40.3,"val":0.04},{"pos":41.2,"val":0.35},{"pos":41.8,"val":0.36},{"pos":42.8,"val":0.43},{"pos":43.6,"val":0.38},{"pos":44.4,"val":0.35},{"pos":45.2,"val":0.21},{"pos":46.2,"val":0.36},{"pos":46.9,"val":0.3},{"pos":47.7,"val":0.26},{"pos":48.5,"val":0.4},{"pos":49.3,"val":0.25},{"pos":50.3,"val":0.18},{"pos":51.3,"val":0.28},{"pos":52.0,"val":0.19},{"pos":52.6,"val":0.36},{"pos":53.4,"val":0.18},{"pos":53.9,"val":0.11},{"pos":54.9,"val":0.3},{"pos":55.7,"val":0.62},{"pos":56.4,"val":0.53},{"pos":57.1,"val":0.42},{"pos":58.0,"val":0.31},{"pos":58.8,"val":0.36},{"pos":59.5,"val":0.23},{"pos":60.2,"val":0.28},{"pos":61.0,"val":0.16},{"pos":61.9,"val":0.26},{"pos":62.6,"val":0.18},{"pos":63.3,"val":0.08},{"pos":64.1,"val":0.11},{"pos":64.9,"val":0.18},{"pos":65.6,"val":0.14},{"pos":66.4,"val":0.19},{"pos":67.2,"val":0.28},{"pos":68.0,"val":0.3},{"pos":68.7,"val":0.31},{"pos":69.2,"val":0.26},{"pos":70.0,"val":0.25},{"pos":70.8,"val":0.21},{"pos":71.8,"val":0.28},{"pos":72.5,"val":0.23},{"pos":73.3,"val":0.25},{"pos":74.1,"val":0.21},{"pos":74.9,"val":0.3},{"pos":75.6,"val":0.23},{"pos":76.4,"val":0.18},{"pos":77.2,"val":0.11},{"pos":77.9,"val":0.08},{"pos":78.6,"val":0.16},{"pos":79.5,"val":0.23},{"pos":80.3,"val":0.18},{"pos":81.0,"val":0.13},{"pos":81.7,"val":0.25},{"pos":82.5,"val":0.21},{"pos":83.4,"val":0.16},{"pos":84.2,"val":0.22},{"pos":84.9,"val":0.43},{"pos":85.4,"val":0.45},{"pos":86.1,"val":0.42},{"pos":86.8,"val":0.4},{"pos":87.7,"val":0.54},{"pos":88.5,"val":0.62},{"pos":89.2,"val":0.86},{"pos":89.9,"val":0.69},{"pos":90.7,"val":0.52},{"pos":91.5,"val":0.59},{"pos":92.3,"val":0.4},{"pos":93.0,"val":0.43},{"pos":93.8,"val":0.25},{"pos":94.6,"val":0.18},{"pos":95.3,"val":0.3},{"pos":96.1,"val":0.18},{"pos":96.9,"val":0.13},{"pos":97.7,"val":0.14},{"pos":98.4,"val":0.18},{"pos":99.1,"val":0.3},{"pos":99.9,"val":0.31},{"pos":100.8,"val":0.3},{"pos":101.4,"val":0}]}, "mark": {"type": "area", "color": "#ff9ba9", "interpolate": "linear"}, "encoding": {"x": {"field": "pos", "type": "quantitative", "axis": null, "scale": {"domain": [-8.602, 105.991], "nice": false, "zero": false, "padding": 0}}, "y": {"field": "val", "type": "quantitative", "axis": null, "stack": null, "scale": {"domain": [-0.401, 1.2214], "nice": false, "zero": false, "padding": 0}}}},
  {"data": {"values": [{"pos":5.7,"val":0.14},{"pos":19.0,"val":0.02},{"pos":35.5,"val":0.02},{"pos":52.9,"val":0.02},{"pos":68.5,"val":0.31},{"pos":69.2,"val":0.02},{"pos":70.0,"val":0.13},{"pos":72.8,"val":0.14},{"pos":76.0,"val":0.52},{"pos":77.0,"val":0.74},{"pos":87.7,"val":0.02},{"pos":92.6,"val":0.2},{"pos":95.9,"val":0.04},{"pos":96.7,"val":0.92},{"pos":97.4,"val":0.05},{"pos":98.0,"val":0.06},{"pos":98.5,"val":0.07}]}, "mark": {"type": "bar", "orient": "vertical", "width": 1.8, "fill": "#000", "fillOpacity": 0.85, "stroke": "#000", "strokeWidth": 0.4}, "encoding": {"x": {"field": "pos", "type": "quantitative", "axis": null}, "y": {"field": "val", "type": "quantitative", "axis": null, "stack": null}, "y2": {"datum": 0}}},
  {"data": {"values": [{"pos":3.0,"end":3.7},{"pos":41.9,"end":44.2},{"pos":78.7,"end":81.0},{"pos":84.9,"end":86.2},{"pos":88.8,"end":89.5},{"pos":91.3,"end":92.2}]}, "mark": {"type": "rect", "fill": "#9db8f5", "fillOpacity": 0.45}, "encoding": {"x": {"field": "pos", "type": "quantitative", "axis": null}, "x2": {"field": "end"}, "y": {"datum": 0, "axis": null}, "y2": {"datum": 1}}},
  {"data": {"values": [{}]}, "mark": {"type": "rule", "color": "#333333", "strokeWidth": 1.5}, "encoding": {"x": {"datum": -2.9, "axis": null}, "x2": {"datum": 100.6}, "y": {"datum": -0.085, "axis": null}}},
  {"data": {"values": [{"pos":2.3,"end":3.0,"kind":"utr"},{"pos":3.0,"end":3.7,"kind":"cds"},{"pos":41.9,"end":44.2,"kind":"cds"},{"pos":78.8,"end":81.1,"kind":"cds"},{"pos":84.9,"end":86.2,"kind":"cds"},{"pos":88.8,"end":89.7,"kind":"cds"},{"pos":91.6,"end":92.3,"kind":"cds"},{"pos":92.3,"end":97.2,"kind":"utr"}]}, "mark": {"type": "rect", "strokeWidth": 1}, "encoding": {"x": {"field": "pos", "type": "quantitative", "axis": null}, "x2": {"field": "end"}, "y": {"datum": -0.037, "axis": null}, "y2": {"datum": -0.129}, "fill": {"field": "kind", "type": "nominal", "scale": {"domain": ["cds", "utr"], "range": ["#43557a", "#ffffff"]}, "legend": null}, "stroke": {"field": "kind", "type": "nominal", "scale": {"domain": ["cds", "utr"], "range": ["#26324d", "#707070"]}, "legend": null}}},
  {"data": {"values": [{"pos":2.7,"label":"Exon 1"},{"pos":42.9,"label":"Exon 2"},{"pos":79.9,"label":"Exon 3"},{"pos":85.6,"label":"Exon 4"},{"pos":89.2,"label":"Exon 5"},{"pos":94.6,"label":"Exon 6"}]}, "mark": {"type": "text", "angle": 90, "align": "left", "baseline": "middle", "fontSize": 7, "color": "#222222"}, "encoding": {"x": {"field": "pos", "type": "quantitative", "axis": null}, "y": {"datum": -0.146, "axis": null}, "text": {"field": "label"}}},
  {"data": {"values": [{"pos":-3.2,"val":1.055,"t":"HLA-DPB1 (Aligned length\u2009:\u200912,306 bp)"}]}, "mark": {"type": "text", "align": "left", "baseline": "alphabetic", "fontSize": 11.7, "fontWeight": "bold", "color": "#111111"}, "encoding": {"x": {"field": "pos", "type": "quantitative", "axis": null}, "y": {"field": "val", "type": "quantitative", "axis": null}, "text": {"field": "t"}}},
  {"data": {"values": [{"pos":-3.7,"val":0.892,"t":"SNPs: 2.79% (28.48/kb ; Remove indels)"},{"pos":-3.7,"val":0.762,"t":"Indels: 1.28%"}]}, "mark": {"type": "text", "align": "left", "baseline": "alphabetic", "fontSize": 10, "fontWeight": "bold", "color": "#111111"}, "encoding": {"x": {"field": "pos", "type": "quantitative", "axis": null}, "y": {"field": "val", "type": "quantitative", "axis": null}, "text": {"field": "t"}}}
 ]},
{"width": 300, "height": 159,
 "layer": [
  {"data": {"values": [{}]}, "mark": {"type": "rect", "clip": true, "stroke": "#3b3d96", "strokeWidth": 1.5, "fill": {"gradient": "linear", "x1": 0, "y1": 0, "x2": 0, "y2": 1, "stops": [{"offset": 0, "color": "#efeffd"}, {"offset": 1, "color": "#c3c3ef"}]}}, "encoding": {"x": {"datum": 0.45, "axis": null}, "x2": {"datum": 99.3}, "y": {"datum": 5.27, "axis": null}, "y2": {"datum": 10.9}}},
  {"data": {"values": [{"h": 2.1, "line": 2.1, "t": "Nucleotide diversity plots in HLA"}, {"h": 2.1, "line": 3.33, "t": "class II loci"}]}, "mark": {"type": "text", "align": "left", "baseline": "alphabetic", "fontSize": 18, "fontWeight": "bold", "color": "#000000"}, "encoding": {"x": {"field": "h", "type": "quantitative", "axis": null, "scale": {"domain": [0, 100], "nice": false, "zero": false}}, "y": {"field": "line", "type": "quantitative", "axis": null, "scale": {"domain": [0, 10.6], "nice": false, "zero": false, "reverse": true}}, "text": {"field": "t"}}},
  {"data": {"values": [{"h": 2.1, "line": 4.2, "t": "Pink and black show SNP and indel diversities, respectively."}, {"h": 2.1, "line": 4.95, "t": "Purple show CDS."}]}, "mark": {"type": "text", "align": "left", "baseline": "alphabetic", "fontSize": 10.9, "color": "#111111"}, "encoding": {"x": {"field": "h", "type": "quantitative", "axis": null}, "y": {"field": "line", "type": "quantitative", "axis": null}, "text": {"field": "t"}}},
  {"data": {"values": [{"h": 2.1, "line": 6.27, "t": "The DQA1, DPA1 and DPB1 loci are"}, {"h": 2.1, "line": 7.25, "t": "polymorphic through the entire gene regions"}, {"h": 2.1, "line": 8.25, "t": "as same as polymorphic loci DRB1 and"}, {"h": 2.1, "line": 9.23, "t": "DQB1 ."}]}, "mark": {"type": "text", "align": "left", "baseline": "alphabetic", "fontSize": 14.2, "color": "#111111"}, "encoding": {"x": {"field": "h", "type": "quantitative", "axis": null}, "y": {"field": "line", "type": "quantitative", "axis": null}, "text": {"field": "t"}}}
 ]}
], "spacing": 0, "bounds": "flush"}
]
}
